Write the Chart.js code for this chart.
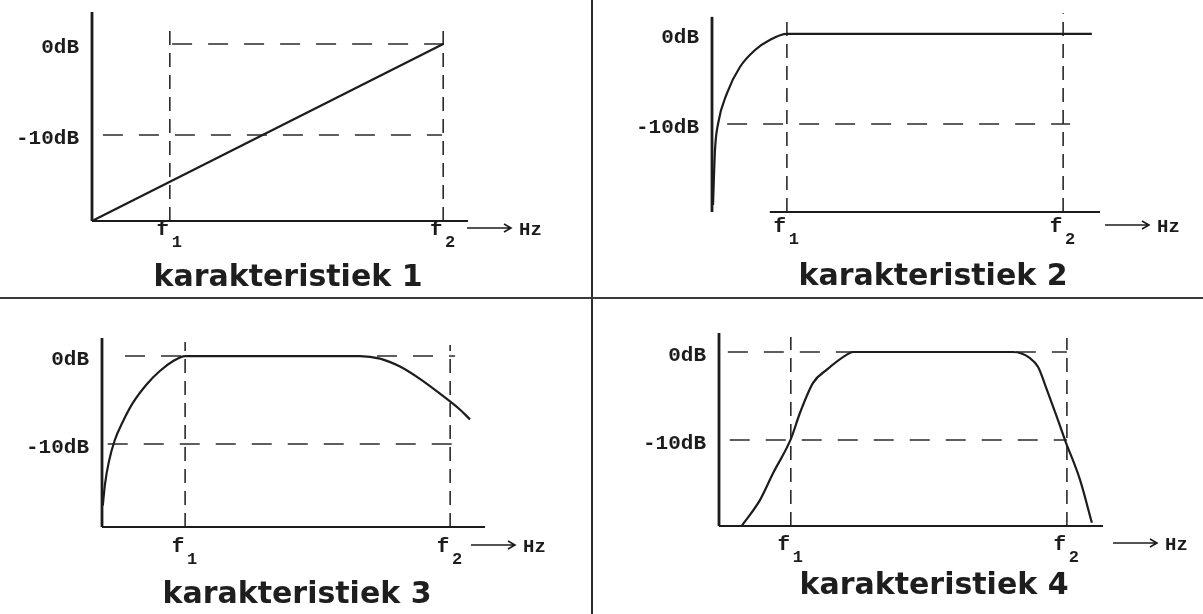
<!DOCTYPE html>
<html>
<head>
<meta charset="utf-8">
<script src="https://cdn.jsdelivr.net/npm/chart.js@4.4.0/dist/chart.umd.min.js"></script>
<style>
  html, body { margin: 0; padding: 0; background: #fff; }
  body { width: 1203px; height: 614px; position: relative; overflow: hidden; }
  canvas { position: absolute; }
  .rule-v { position: absolute; left: 591px; top: 0; width: 2px; height: 614px; background: #2b2b2b; }
  .rule-h { position: absolute; left: 0; top: 297px; width: 1203px; height: 2px; background: #3a3a3a; }
  .title { position: absolute; font: bold 30px 'DejaVu Sans', sans-serif; line-height: 30px;
           color: #1e1e1e; white-space: nowrap; transform: translateX(-50%); }
</style>
</head>
<body>
<div class="rule-v"></div>
<div class="rule-h"></div>
<canvas id="k1" width="591" height="297" style="left:0;top:0"></canvas>
<canvas id="k2" width="609" height="297" style="left:594px;top:0"></canvas>
<canvas id="k3" width="591" height="314" style="left:0;top:300px"></canvas>
<canvas id="k4" width="609" height="314" style="left:594px;top:300px"></canvas>
<div class="title" style="left:288px;top:261px">karakteristiek 1</div>
<div class="title" style="left:933px;top:260px">karakteristiek 2</div>
<div class="title" style="left:297px;top:578px">karakteristiek 3</div>
<div class="title" style="left:934px;top:569px">karakteristiek 4</div>
<script>
// shared axis text
const yTickValues = [0, -10];
const yTickLabels = ['0dB', '-10dB'];
const markSubs = ['1', '2'];

// x runs 0..100 along each frequency axis, y in dB
// karakteristiek 1
const k1X = [0, 93.4];
const k1Y = [-19.45, 0];
const k1Marks = [20.7, 93.4];
const k1MarkTop = [1.9, 1.8];
const k1Dash0 = [21.3, 95.7];
const k1Dash10 = [2.9, 93.1];
const k1Range = [-19.45, 3.52];

// karakteristiek 2
const k2X = [0.26, 0.77, 1.55, 3.87, 7.2, 11.1, 14.9, 19.3, 97.9];
const k2Y = [-19.0, -12.9, -10, -6.56, -3.67, -1.78, -0.67, 0, 0];
const k2Marks = [19.3, 90.5];
const k2MarkTop = [1.8, 2.3];
const k2Dash0 = null;
const k2Dash10 = [3.9, 92.3];
const k2Range = [-19.78, 2.33];

// karakteristiek 3
const k3X = [0.2, 0.8, 1.8, 3.3, 5.5, 8.1, 11.7, 15.1, 18.5, 21.7, 67.4, 72.6, 77.8, 83.0, 88.3, 93.5, 96.1];
const k3Y = [-17, -14.5, -12, -9.6, -7.4, -5.3, -3.2, -1.7, -0.6, 0, 0, -0.3, -1.2, -2.6, -4.3, -6.1, -7.2];
const k3Marks = [21.7, 90.9];
const k3MarkTop = [1.6, 1.25];
const k3Dash0 = [6.0, 92.2];
const k3Dash10 = [1.5, 92.0];
const k3Range = [-19.43, 2.05];

// karakteristiek 4
const k4X = [6.0, 10.7, 14.1, 18.7, 21.1, 24.5, 28.1, 33.3, 34.9, 76.6, 81.0, 83.1, 85.4, 88.0, 90.1, 94.0, 97.1];
const k4Y = [-19.7, -16.8, -13.75, -9.9, -6.9, -3.5, -2.0, -0.3, 0, 0, -0.7, -1.7, -4.3, -7.4, -10, -14.5, -19.4];
const k4Marks = [18.7, 90.6];
const k4MarkTop = [1.7, 1.6];
const k4Dash0 = [2.3, 90.6];
const k4Dash10 = [2.8, 90.6];
const k4Range = [-19.77, 2.16];

const xAxisStart = [0, 14.9, 0, 0];
const yAxisTop = [3.52, 1.9, 2.05, 2.16];

// page layout: canvas origin, plot box (page px), arrow offsets
const panels = [
  { id: 'k1', org: [0, 0],     box: [92, 12, 468, 221],    arrowDx: -1,  labelDy: 7 },
  { id: 'k2', org: [594, 0],   box: [712, 13, 1100, 212],  arrowDx: 5,   labelDy: 13 },
  { id: 'k3', org: [0, 300],   box: [102, 338, 485, 527],  arrowDx: -14, labelDy: 18 },
  { id: 'k4', org: [594, 300], box: [719, 333, 1103, 526], arrowDx: 10,  labelDy: 17 },
];

const INK = '#1c1c1c';
const MONO = '"Liberation Mono", "DejaVu Sans Mono", monospace';

const pts = (xs, ys) => xs.map((x, i) => ({ x, y: ys[i] }));

const labelPlugin = {
  id: 'plotLabels',
  afterDatasetsDraw(chart, args, opts) {
    const { ctx, chartArea, scales: { x, y } } = chart;
    ctx.save();
    ctx.fillStyle = INK;
    ctx.strokeStyle = INK;
    ctx.font = `bold 21px ${MONO}`;
    ctx.textAlign = 'right';
    ctx.textBaseline = 'middle';
    yTickValues.forEach((v, i) => {
      ctx.fillText(yTickLabels[i], x.getPixelForValue(0) - 13, y.getPixelForValue(v) + 4);
    });

    const ly = chartArea.bottom + opts.labelDy;
    ctx.textAlign = 'center';
    opts.marks.forEach((m, i) => {
      const px = x.getPixelForValue(m);
      ctx.font = `bold 21px ${MONO}`;
      ctx.fillText('f', px - 7, ly + 2);
      ctx.font = `bold 17px ${MONO}`;
      ctx.fillText(markSubs[i], px + 7, ly + 15);
    });

    // frequency arrow + unit
    const ax = chartArea.right + opts.arrowDx;
    const len = 44;
    ctx.lineWidth = 1.6;
    ctx.beginPath();
    ctx.moveTo(ax, ly);
    ctx.lineTo(ax + len, ly);
    ctx.moveTo(ax + len - 7, ly - 4);
    ctx.lineTo(ax + len, ly);
    ctx.lineTo(ax + len - 7, ly + 4);
    ctx.stroke();
    ctx.textAlign = 'left';
    ctx.font = `bold 19px ${MONO}`;
    ctx.fillText('Hz', ax + len + 8, ly + 2);
    ctx.restore();
  }
};

function buildPanel(p, i, curve, marks, markTop, dash0, dash10, range) {
  const [yMin, yMax] = range;
  const solid = (data, w) => ({ data, borderColor: INK, borderWidth: w, pointRadius: 0, showLine: true, clip: false });
  const dashed = (data, dash) => ({ data, borderColor: '#2a2a2a', borderWidth: 1.6, borderDash: dash,
                                    pointRadius: 0, showLine: true, clip: false });

  const datasets = [
    Object.assign(solid(curve, 2.2), { cubicInterpolationMode: 'monotone' }),
    solid([{ x: 0, y: yMin }, { x: 0, y: yAxisTop[i] }], 2.8),
    solid([{ x: xAxisStart[i], y: yMin }, { x: 100, y: yMin }], 2.2),
  ];
  marks.forEach((m, k) => datasets.push(dashed([{ x: m, y: yMin }, { x: m, y: markTop[k] }], [14, 8])));
  if (dash0) datasets.push(dashed([{ x: dash0[0], y: 0 }, { x: dash0[1], y: 0 }], [20, 16]));
  if (dash10) datasets.push(dashed([{ x: dash10[0], y: -10 }, { x: dash10[1], y: -10 }], [20, 16]));

  const cv = document.getElementById(p.id);
  const [l, t, r, b] = p.box;
  new Chart(cv, {
    type: 'scatter',
    data: { datasets },
    options: {
      responsive: false, animation: false, devicePixelRatio: 1,
      layout: { padding: {
        left: l - p.org[0], top: t - p.org[1],
        right: p.org[0] + cv.width - r, bottom: p.org[1] + cv.height - b } },
      scales: {
        x: { type: 'linear', min: 0, max: 100, display: false },
        y: { type: 'linear', min: yMin, max: yMax, display: false },
      },
      plugins: {
        legend: { display: false },
        tooltip: { enabled: false },
        plotLabels: { marks, arrowDx: p.arrowDx, labelDy: p.labelDy },
      },
    },
    plugins: [labelPlugin],
  });
}

buildPanel(panels[0], 0, pts(k1X, k1Y), k1Marks, k1MarkTop, k1Dash0, k1Dash10, k1Range);
buildPanel(panels[1], 1, pts(k2X, k2Y), k2Marks, k2MarkTop, k2Dash0, k2Dash10, k2Range);
buildPanel(panels[2], 2, pts(k3X, k3Y), k3Marks, k3MarkTop, k3Dash0, k3Dash10, k3Range);
buildPanel(panels[3], 3, pts(k4X, k4Y), k4Marks, k4MarkTop, k4Dash0, k4Dash10, k4Range);
</script>
</body>
</html>
